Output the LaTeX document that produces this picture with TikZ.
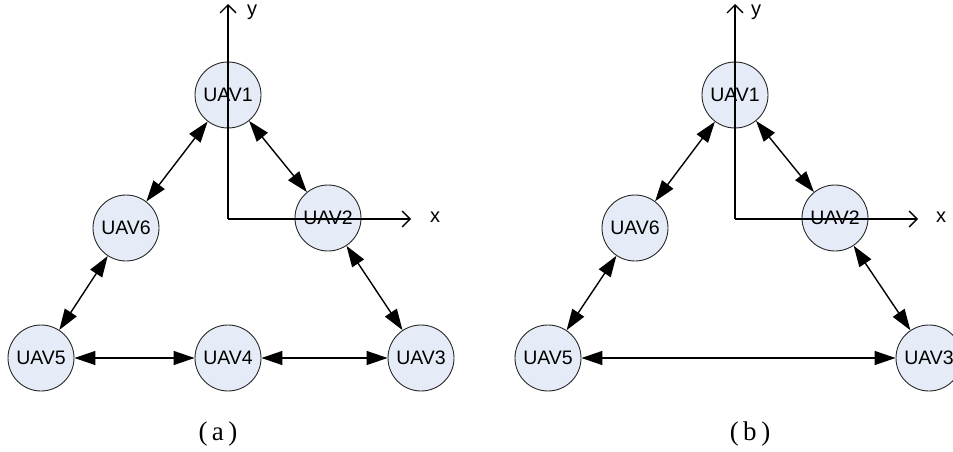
\documentclass[tikz,border=0pt]{standalone}
\usepackage{fontspec}
\setmainfont{Liberation Sans}
\newfontfamily\capfont{Liberation Serif}
\usetikzlibrary{arrows.meta}
\definecolor{uavfill}{RGB}{230,236,247}
\definecolor{uavedge}{RGB}{40,40,40}
\tikzset{
  uav/.style={circle, draw=uavedge, line width=0.9pt, fill=uavfill,
    minimum size=66pt, inner sep=0pt, font=\fontsize{19.5}{20}\selectfont},
  link/.style={line width=1.4pt, {Triangle[length=21pt,width=14pt]}-{Triangle[length=21pt,width=14pt]}},
  axis/.style={line width=1.3pt, -{Straight Barb[length=8pt,width=16pt,line width=1.3pt]}},
  axlabel/.style={font=\fontsize{20}{20}\selectfont, inner sep=0pt},
  caption/.style={font=\capfont\fontsize{27}{27}\selectfont, inner sep=0pt}
}
\begin{document}
\begin{tikzpicture}[x=1pt,y=-1pt]
\useasboundingbox (0,0) rectangle (953,452);

% ---- panel (a): ring of six UAVs ----
\node[uav] (a1) at (228,95)  {UAV1};
\node[uav] (a2) at (328,218) {UAV2};
\node[uav] (a3) at (421,358) {UAV3};
\node[uav] (a4) at (228,358) {UAV4};
\node[uav] (a5) at (41,358)  {UAV5};
\node[uav] (a6) at (126,228) {UAV6};
\draw[link] (a1) -- (a2);
\draw[link] (a2) -- (a3);
\draw[link] (a3) -- (a4);
\draw[link] (a4) -- (a5);
\draw[link] (a5) -- (a6);
\draw[link] (a6) -- (a1);
\coordinate (ao) at (228,219);
\coordinate (ax) at (411,219);
\coordinate (ay) at (228,4);
\draw[axis] (ao) -- (ax);
\draw[axis] (ao) -- (ay);
\node[axlabel] (axl) at (435,217) {x};
\node[axlabel] (ayl) at (252,12) {y};
\node[caption] (capa) at (218,434) {(\,a\,)};

% ---- panel (b): UAV4 removed, UAV5 linked to UAV3 ----
\begin{scope}[xshift=507pt]
\node[uav] (b1) at (228,95)  {UAV1};
\node[uav] (b2) at (328,218) {UAV2};
\node[uav] (b3) at (422,358) {UAV3};
\node[uav] (b5) at (41,358)  {UAV5};
\node[uav] (b6) at (128,228) {UAV6};
\draw[link] (b1) -- (b2);
\draw[link] (b2) -- (b3);
\draw[link] (b3) -- (b5);
\draw[link] (b5) -- (b6);
\draw[link] (b6) -- (b1);
\coordinate (bo) at (228,219);
\coordinate (bx) at (411,219);
\coordinate (by) at (228,4);
\draw[axis] (bo) -- (bx);
\draw[axis] (bo) -- (by);
\node[axlabel] (bxl) at (434,217) {x};
\node[axlabel] (byl) at (249,12) {y};
\node[caption] (capb) at (243,434) {(\,b\,)};
\end{scope}
\end{tikzpicture}
\end{document}
